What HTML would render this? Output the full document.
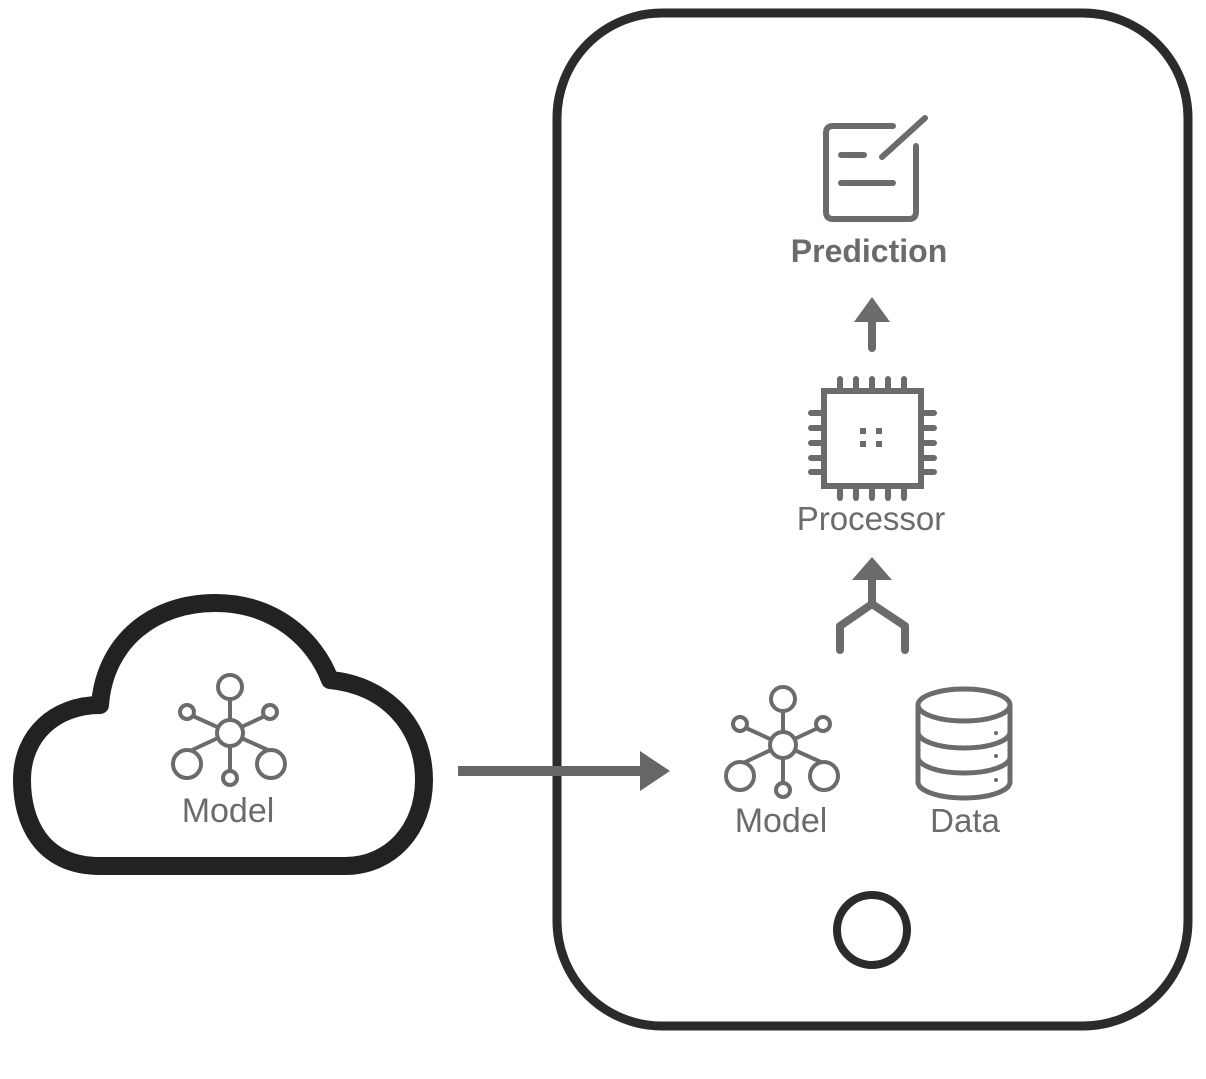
<!DOCTYPE html>
<html><head><meta charset="utf-8"><style>html,body{margin:0;padding:0;background:#fff}svg{display:block}</style></head>
<body>
<svg width="1206" height="1079" viewBox="0 0 1206 1079" xmlns="http://www.w3.org/2000/svg" font-family="Liberation Sans, sans-serif">
<rect x="557" y="13" width="631" height="1013" rx="105" fill="none" stroke="#2b2b2b" stroke-width="9"/>
<circle cx="872" cy="930" r="35" fill="none" stroke="#2b2b2b" stroke-width="8"/>
<path d="M100,866 C40,866 22,820 22,780 C22,735 55,705 100,705 C105,640 155,603 215,603 C275,603 315,640 330,680 C385,685 424,725 424,780 C424,830 390,866 345,866 Z" fill="none" stroke="#222" stroke-width="18" stroke-linejoin="round"/>
<line x1="458" y1="771" x2="642" y2="771" stroke="#666" stroke-width="10"/>
<polygon points="640,751 670,771 640,791" fill="#666"/>
<g id="m" fill="none" stroke="#6b6b6b" stroke-width="4">
<line x1="230" y1="699" x2="230" y2="771"/><line x1="193" y1="716" x2="270" y2="751"/><line x1="265" y1="716" x2="190" y2="751"/>
<circle cx="230" cy="733" r="13" fill="#fff"/><circle cx="230" cy="687" r="12" fill="#fff"/>
<circle cx="187" cy="712" r="7" fill="#fff"/><circle cx="270" cy="712" r="7" fill="#fff"/>
<circle cx="187" cy="764" r="14" fill="#fff"/><circle cx="271" cy="764" r="14" fill="#fff"/>
<circle cx="230" cy="778" r="7" fill="#fff"/>
</g>
<use href="#m" transform="translate(553,12)"/>
<g fill="#6b6b6b" text-anchor="middle">
<text x="228" y="822" font-size="34">Model</text><text x="781" y="832" font-size="34">Model</text><text x="965" y="832" font-size="33">Data</text>
<text x="871" y="530" font-size="33">Processor</text><text x="869" y="262" font-weight="bold" font-size="32">Prediction</text>
</g>
<g fill="none" stroke="#6b6b6b" stroke-width="5">
<path d="M918,705 V782 A46,16 0 0 0 1010,782 V705"/>
<ellipse cx="964" cy="705" rx="46" ry="16"/>
<path d="M918,732 A46,16 0 0 0 1010,732 M918,757 A46,16 0 0 0 1010,757"/>
</g>
<g fill="#6b6b6b"><circle cx="996" cy="733" r="2"/><circle cx="996" cy="756" r="2"/><circle cx="996" cy="780" r="2"/></g>
<g fill="none" stroke="#6b6b6b" stroke-width="8" stroke-linecap="round" stroke-linejoin="round">
<path d="M872,578 V604 L840,626 V650 M872,604 L905,626 V650"/>
<line x1="872" y1="320" x2="872" y2="348"/>
</g>
<polygon points="872,557 892,580 852,580" fill="#6b6b6b"/>
<polygon points="872,297 890,322 854,322" fill="#6b6b6b"/>
<g fill="none" stroke="#6b6b6b" stroke-width="6" stroke-linecap="round">
<rect x="824" y="391" width="97" height="95"/>
<path d="M840,379V389M856,379V389M872,379V389M888,379V389M904,379V389M840,489V498M856,489V498M872,489V498M888,489V498M904,489V498M811,413H821M811,428H821M811,443H821M811,458H821M811,472H821M924,413H934M924,428H934M924,443H934M924,458H934M924,472H934"/>
<path d="M893,126 H833 Q826,126 826,133 V212 Q826,219 833,219 H909 Q916,219 916,212 V146"/>
<path d="M882,157 L925,118 M841,155 H864 M841,183 H893"/>
</g>
<g fill="#6b6b6b"><rect x="860" y="428" width="6" height="6"/><rect x="876" y="428" width="6" height="6"/><rect x="860" y="441" width="6" height="6"/><rect x="876" y="441" width="6" height="6"/></g>
</svg>
</body></html>
